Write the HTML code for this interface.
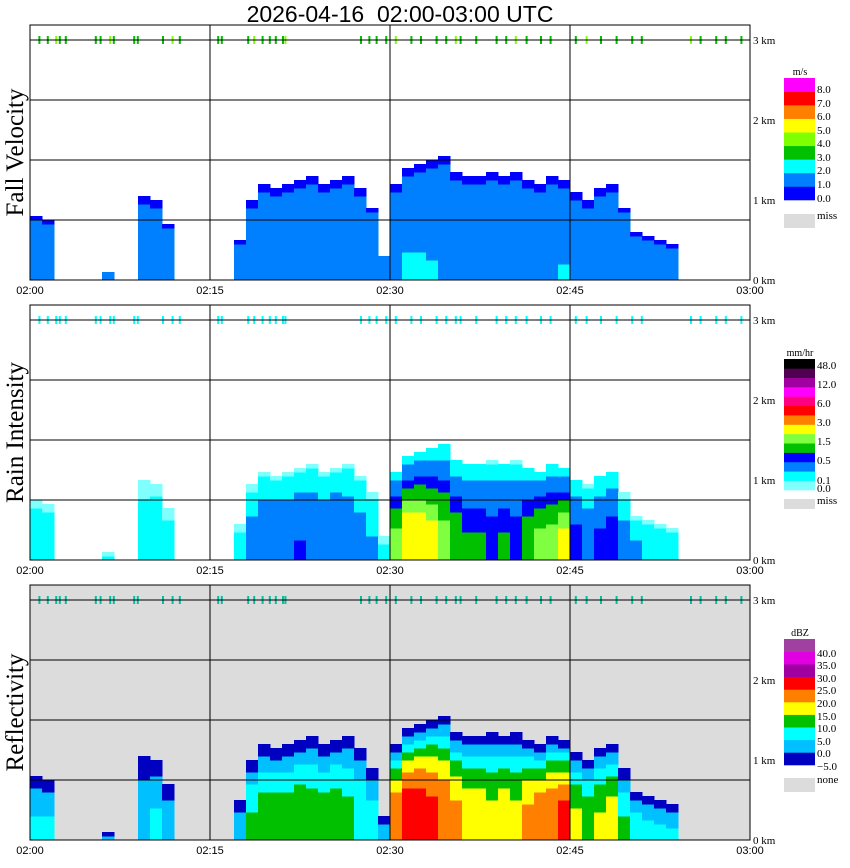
<!DOCTYPE html>
<html><head><meta charset="utf-8">
<style>
body{margin:0;background:#fff;}
svg{display:block;}
text{font-family:"Liberation Serif",serif;}
</style></head>
<body>
<svg id="chart" width="850" height="868" viewBox="0 0 850 868" xmlns="http://www.w3.org/2000/svg">
<text x="400" y="22" text-anchor="middle" font-size="23" style="font-family:'Liberation Sans',sans-serif;white-space:pre">2026-04-16  02:00-03:00 UTC</text>
</svg>
<script>
// ---- data (per-minute, 02:00..02:59) ----
const minutes = Array.from({length:60},(_,i)=>i);
const echoTopKm = [0.8,0.75,0,0,0,0,0.1,0,0,1.05,1.0,0.7,0,0,0,0,0,0.5,1.0,1.2,1.15,1.2,1.25,1.3,1.2,1.25,1.3,1.15,0.9,0.3,1.2,1.4,1.45,1.5,1.55,1.35,1.3,1.3,1.35,1.3,1.35,1.25,1.2,1.3,1.25,1.1,1.0,1.15,1.2,0.9,0.6,0.55,0.5,0.45,0,0,0,0,0,0];
const coreDbz = [6,6,0,0,0,0,4,0,0,4,6,4,0,0,0,0,0,3,11,13,14,13,15,13,13,14,12,10,8,3,25,30,30,28,25,22,19,19,17,19,17,22,25,25,28,17,14,16,18,11,9,7,6,6,0,0,0,0,0,0];
const topMarks = [0.7,1.4,2.1,2.4,2.9,5.4,5.8,6.6,6.9,8.6,8.9,11,11.8,12.4,15.6,15.9,18.1,18.6,19.3,19.9,20.4,21,21.2,27.5,28.2,28.8,29.6,30.4,31.7,32.5,33.8,34.6,35.4,35.8,37.1,38.8,39.6,40.4,41.3,42.5,43.3,45.4,46.3,47.5,48.8,50.1,50.9,55,55.8,57.1,57.9,59.2];
const timeLabels = ["02:00","02:15","02:30","02:45","03:00"];
const heightLabels = ["0 km","1 km","2 km","3 km"];

const NS="http://www.w3.org/2000/svg";
const svg=document.getElementById('chart');
function el(tag,attrs,parent){const e=document.createElementNS(NS,tag);for(const k in attrs)e.setAttribute(k,attrs[k]);(parent||svg).appendChild(e);return e;}
const X0=30,X1=750;
const xOf=m=>X0+(m/60)*(X1-X0);
function dbzAt(i,h){const t=echoTopKm[i];const c=coreDbz[i];return c-(c+5)*Math.pow(h/t,2.5);}

const velCols=["#0000ff","#0080ff","#00ffff","#00c000","#80ff00","#ffff00","#ff8000","#ff0000","#ff00ff"];
const rainCols=["#80ffff","#00ffff","#0080ff","#0000ff","#00c000","#80ff40","#ffff00","#ff8000","#ff0000","#ff0080","#ff00ff","#a000a0","#500050","#000000"];
const dbzCols=["#0000c0","#00c0ff","#00ffff","#00c000","#ffff00","#ff8000","#ff0000","#a000a0","#e000e0","#a040a0"];

function colorFor(panel,i,h){
  const d=dbzAt(i,h);const f=h/echoTopKm[i];
  if(panel===0){
    if(f>0.92) return velCols[0];
    const v=1+Math.max(0,coreDbz[i]-10)/15*(1-f);
    return velCols[Math.min(8,Math.max(0,Math.floor(v)))];
  }
  if(panel===1){
    if(d<0) return f>0.93?null:rainCols[0];
    const r=Math.pow(Math.pow(10,d/10)/200,1/1.6);
    const th=[0.02,0.1,0.3,0.5,1,1.5,3,4.5,6,9,12,24,48];
    let k=0;while(k<th.length&&r>th[k])k++;
    return rainCols[k];
  }
  let k=Math.floor((d+5)/5);k=Math.max(0,Math.min(9,k));return dbzCols[k];
}

const panels=[
 {name:"fall-velocity",title:"Fall Velocity",unit:"m/s",bg:"#fff"},
 {name:"rain-intensity",title:"Rain Intensity",unit:"mm/hr",bg:"#fff"},
 {name:"reflectivity",title:"Reflectivity",unit:"dBZ",bg:"#dcdcdc"}];

panels.forEach((p,pi)=>{
  const off=pi*280, top=25+off, bot=280+off;
  const yOf=h=>bot-h*80;
  const g=el('g',{});
  
  
  const bg=el('rect',{x:X0,y:top,width:X1-X0,height:bot-top,fill:p.bg},g);
  
  
  minutes.forEach(i=>{
    const t=echoTopKm[i];if(!t)return;
    const step=0.05;
    for(let h=0;h<t;h+=step){
      const c=colorFor(pi,i,h+step/2);if(!c)continue;
      const r=el('rect',{x:xOf(i),y:yOf(Math.min(t,h+step)),width:xOf(1)-xOf(0)+0.5,height:step*80+0.5,fill:c},g);
      
      
    }
  });
  topMarks.forEach((m,j)=>{
    const c=pi===0?(j%5===2?"#80ff00":"#00c000"):(pi===1?"#00ffff":"#00c0a0");
    const r=el('rect',{x:xOf(m),y:yOf(3)-4,width:2,height:8,fill:c},g);
    
    
  });
  [40,100,160,220].forEach(yy=>{el('line',{x1:X0,x2:X1,y1:yy+off,y2:yy+off,stroke:"#000","stroke-width":1},g);});
  [15,30,45].forEach(m=>{el('line',{x1:xOf(m),x2:xOf(m),y1:top,y2:bot,stroke:"#000","stroke-width":1},g);});
  const fr=el('rect',{x:X0,y:top,width:X1-X0,height:bot-top,fill:"none",stroke:"#000","stroke-width":1},g);
  
  
  timeLabels.forEach((lab,k)=>{
    const t=el('text',{x:xOf(k*15),y:bot+14,"text-anchor":"middle","font-size":11,style:"font-family:'Liberation Sans',sans-serif"},g);
    t.textContent=lab;
    
    
  });
  heightLabels.forEach((lab,k)=>{
    const t=el('text',{x:753,y:yOf(k)+4,"font-size":11},g);
    t.textContent=lab;
    
    
  });
  const yt=el('text',{x:0,y:0,"text-anchor":"middle","font-size":25,transform:`translate(23,${(top+bot)/2}) rotate(-90)`},g);
  yt.textContent=p.title;
  
  
});

function legend(name,unit,cols,y0,y1,labels,missY,missH,missLabel,labelYs){
  const g=el('g',{});
  
  
  const n=cols.length,bh=(y1-y0)/n;
  const u=el('text',{x:800,y:y0-3,"text-anchor":"middle","font-size":10},g);u.textContent=unit;
  cols.forEach((c,k)=>{
    const r=el('rect',{x:784,y:y1-(k+1)*bh,width:31,height:bh+0.3,fill:c},g);
    
    
  });
  labels.forEach((l,k)=>{const t=el('text',{x:817,y:labelYs[k],"font-size":11},g);t.textContent=l;});
  el('rect',{x:784,y:missY,width:31,height:missH,fill:"#dcdcdc"},g);
  const mt=el('text',{x:817,y:missY+5,"font-size":11},g);mt.textContent=missLabel;
}
legend('fall-velocity-legend','m/s',velCols,78,200,["8.0","7.0","6.0","5.0","4.0","3.0","2.0","1.0","0.0"],214,14,"miss",[93,107,120,134,147,161,174,188,202]);
legend('rain-legend','mm/hr',rainCols,359,490,["48.0","12.0","6.0","3.0","1.5","0.5","0.1","0.0"],499,10,"miss",[369,388,407,426,445,464,484,492]);
legend('reflectivity-legend','dBZ',dbzCols,639,765,["40.0","35.0","30.0","25.0","20.0","15.0","10.0","5.0","0.0","\u22125.0"],778,14,"none",[657,669,682,694,707,720,732,745,757,770]);
</script>
</body></html>
